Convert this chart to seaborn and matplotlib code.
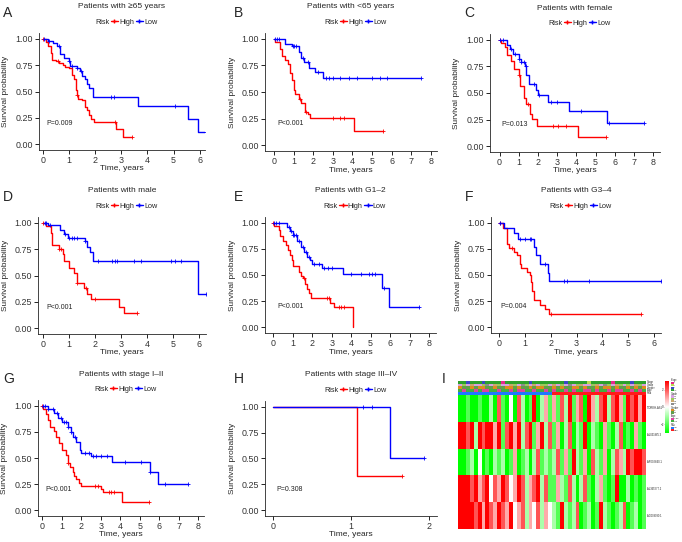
import numpy as np
import pandas as pd
import matplotlib
matplotlib.use('Agg')
import matplotlib.pyplot as plt
import seaborn as sns
from matplotlib.lines import Line2D
from matplotlib.colors import ListedColormap, LinearSegmentedColormap
from matplotlib.patches import Rectangle

sns.set_style('ticks')
plt.rcParams['font.family'] = ['Liberation Sans', 'DejaVu Sans']

# ---------------- data: KM step curves (time of step, survival after step) ----------------
A_high_t = [0, 0.1, 0.2, 0.3, 0.35, 0.5, 0.6, 0.75, 0.85, 1.0, 1.1, 1.2, 1.25, 1.3, 1.35, 1.5, 1.6, 1.7, 1.75, 1.85, 1.95, 2.8, 3.05]
A_high_s = [1.0, 0.97, 0.93, 0.87, 0.80, 0.79, 0.77, 0.75, 0.73, 0.72, 0.66, 0.62, 0.51, 0.47, 0.43, 0.42, 0.35, 0.32, 0.28, 0.24, 0.21, 0.14, 0.07]
A_high_end = 3.4
A_high_cens = [0.0, 0.57, 1.3, 2.75, 3.4]
A_low_t = [0, 0.2, 0.4, 0.55, 0.65, 0.8, 1.0, 1.05, 1.3, 1.4, 1.5, 1.6, 1.7, 1.75, 1.9, 3.65, 5.55, 5.95]
A_low_s = [1.0, 0.98, 0.96, 0.93, 0.86, 0.82, 0.79, 0.74, 0.72, 0.69, 0.65, 0.62, 0.57, 0.53, 0.45, 0.36, 0.24, 0.12]
A_low_end = 6.25
A_low_cens = [0.05, 0.25, 0.6, 1.0, 1.1, 1.3, 1.45, 2.6, 2.7, 5.05, 6.25]

B_high_t = [0, 0.05, 0.3, 0.4, 0.55, 0.7, 0.8, 0.9, 1.0, 1.1, 1.3, 1.4, 1.6, 1.75, 1.85, 4.1]
B_high_s = [1.0, 0.97, 0.90, 0.84, 0.80, 0.76, 0.68, 0.61, 0.52, 0.48, 0.43, 0.40, 0.31, 0.29, 0.26, 0.13]
B_high_end = 5.55
B_high_cens = [1.35, 1.65, 3.0, 3.35, 3.55, 5.55]
B_low_t = [0, 0.55, 0.9, 1.3, 1.4, 1.55, 1.8, 2.1, 2.5]
B_low_s = [1.0, 0.95, 0.93, 0.88, 0.82, 0.78, 0.73, 0.69, 0.63]
B_low_end = 7.5
B_low_cens = [0.05, 0.15, 0.25, 0.95, 1.05, 1.15, 1.5, 1.75, 2.25, 2.65, 2.8, 3.0, 3.35, 3.8, 4.25, 5.0, 5.4, 5.75, 7.5]

C_high_t = [0, 0.05, 0.3, 0.4, 0.6, 0.75, 1.0, 1.05, 1.25, 1.4, 1.6, 1.7, 1.95, 4.1]
C_high_s = [1.0, 0.97, 0.93, 0.86, 0.80, 0.73, 0.67, 0.57, 0.45, 0.40, 0.30, 0.26, 0.19, 0.09]
C_high_end = 5.55
C_high_cens = [0.0, 1.0, 1.5, 2.8, 3.05, 3.45, 5.55]
C_low_t = [0, 0.4, 0.55, 0.7, 1.0, 1.1, 1.3, 1.4, 1.55, 1.9, 2.0, 2.5, 3.6, 5.6]
C_low_s = [1.0, 0.95, 0.91, 0.87, 0.82, 0.79, 0.75, 0.67, 0.58, 0.53, 0.48, 0.42, 0.33, 0.22]
C_low_end = 7.5
C_low_cens = [0.0, 0.2, 0.6, 0.8, 1.0, 1.1, 1.25, 1.35, 1.8, 2.05, 2.65, 3.0, 4.25, 5.7, 7.5]

D_high_t = [0, 0.1, 0.3, 0.35, 0.6, 0.75, 0.8, 1.0, 1.2, 1.3, 1.55, 1.7, 1.85, 2.9, 3.1]
D_high_s = [1.0, 0.97, 0.90, 0.79, 0.75, 0.70, 0.64, 0.57, 0.52, 0.43, 0.38, 0.32, 0.28, 0.20, 0.14]
D_high_end = 3.6
D_high_cens = [0.0, 0.6, 0.7, 1.3, 1.65, 2.0, 3.6]
D_low_t = [0, 0.2, 0.65, 0.8, 0.95, 1.6, 1.7, 1.8, 1.9, 5.95]
D_low_s = [1.0, 0.98, 0.93, 0.89, 0.86, 0.83, 0.77, 0.72, 0.64, 0.32]
D_low_end = 6.25
D_low_cens = [0.05, 0.1, 0.25, 0.85, 1.0, 1.1, 1.2, 1.3, 1.6, 2.1, 2.65, 2.75, 2.85, 3.5, 3.75, 4.9, 5.05, 5.3, 6.25]

E_high_t = [0, 0.05, 0.3, 0.35, 0.5, 0.65, 0.75, 0.85, 0.95, 1.0, 1.3, 1.4, 1.5, 1.65, 1.75, 1.85, 1.95, 2.9, 3.1, 4.1]
E_high_s = [1.0, 0.97, 0.93, 0.87, 0.83, 0.79, 0.74, 0.69, 0.64, 0.59, 0.53, 0.49, 0.47, 0.41, 0.37, 0.33, 0.28, 0.23, 0.19, 0.0]
E_high_end = 4.1
E_high_cens = [0.0, 1.6, 2.75, 2.85, 3.35, 3.5, 3.65]
E_low_t = [0, 0.7, 0.85, 1.0, 1.2, 1.4, 1.6, 1.75, 1.9, 2.0, 2.5, 3.6, 5.6, 5.95]
E_low_s = [1.0, 0.96, 0.92, 0.88, 0.83, 0.77, 0.72, 0.67, 0.64, 0.61, 0.57, 0.51, 0.38, 0.19]
E_low_end = 7.5
E_low_cens = [0.05, 0.15, 0.3, 0.8, 0.9, 1.0, 1.05, 1.15, 1.3, 1.5, 1.7, 1.85, 2.1, 2.35, 2.6, 2.8, 3.0, 4.0, 4.5, 4.9, 5.05, 5.25, 5.7, 7.5]

F_high_t = [0, 0.15, 0.3, 0.4, 0.6, 0.7, 0.8, 0.85, 1.1, 1.2, 1.25, 1.3, 1.35, 1.6, 1.8, 1.95]
F_high_s = [1.0, 0.95, 0.80, 0.76, 0.72, 0.69, 0.61, 0.57, 0.53, 0.50, 0.43, 0.35, 0.26, 0.21, 0.17, 0.13]
F_high_end = 5.5
F_high_cens = [0.05, 0.5, 2.0, 5.5]
F_low_t = [0, 0.2, 0.6, 0.75, 1.35, 1.45, 1.6, 1.9, 1.95]
F_low_s = [1.0, 0.95, 0.90, 0.84, 0.77, 0.69, 0.61, 0.52, 0.44]
F_low_end = 6.25
F_low_cens = [0.05, 0.8, 1.0, 1.2, 1.25, 1.8, 2.5, 2.65, 3.5, 6.25]

G_high_t = [0, 0.05, 0.2, 0.3, 0.4, 0.6, 0.7, 0.85, 1.0, 1.2, 1.3, 1.4, 1.6, 1.65, 1.75, 1.9, 2.0, 3.0, 3.1, 4.1]
G_high_s = [1.0, 0.97, 0.92, 0.86, 0.80, 0.76, 0.70, 0.64, 0.58, 0.53, 0.45, 0.41, 0.37, 0.33, 0.30, 0.26, 0.23, 0.20, 0.17, 0.08]
G_high_end = 5.5
G_high_cens = [0.0, 1.3, 2.7, 2.85, 3.4, 3.55, 3.7, 5.5]
G_low_t = [0, 0.3, 0.6, 0.8, 1.0, 1.3, 1.45, 1.6, 1.75, 1.95, 2.0, 2.5, 3.6, 5.55, 5.95]
G_low_s = [1.0, 0.97, 0.93, 0.88, 0.84, 0.80, 0.75, 0.70, 0.65, 0.58, 0.55, 0.52, 0.46, 0.37, 0.25]
G_low_end = 7.5
G_low_cens = [0.05, 0.15, 0.3, 0.55, 0.75, 0.95, 1.1, 1.2, 1.3, 1.45, 1.7, 2.2, 2.4, 2.6, 2.75, 3.0, 3.3, 4.25, 5.05, 5.55, 6.3, 7.5]

H_high_t = [0, 1.08]
H_high_s = [1.0, 0.333]
H_high_end = 1.65
H_high_cens = [1.65]
H_low_t = [0, 1.5]
H_low_s = [1.0, 0.5]
H_low_end = 1.93
H_low_cens = [1.15, 1.27, 1.93]

letters = ['A', 'B', 'C', 'D', 'E', 'F', 'G', 'H']
titles = ['Patients with \u226565 years', 'Patients with <65 years', 'Patients with female',
          'Patients with male', 'Patients with G1\u20132', 'Patients with G3\u20134',
          'Patients with stage I\u2013II', 'Patients with stage III\u2013IV']
pvals = ['P=0.009', 'P<0.001', 'P=0.013', 'P<0.001', 'P<0.001', 'P=0.004', 'P<0.001', 'P=0.308']
xmax_ticks = [6, 8, 8, 6, 8, 6, 8, 2]
y_ticks = [0.0, 0.25, 0.5, 0.75, 1.0]
y_ticklabels = ['0.00', '0.25', '0.50', '0.75', '1.00']
risk_labels = ['High', 'Low']

# ---------------- heatmap data (panel I) ----------------
gene_names = ['TDRKH-AS1', 'AL031985.3', 'AP002840.1', 'AL365277.2', 'AC009090.1']
expr_row1 = [-3, -3, -2, -3, -3, -2, -3, -3, -1, -3, 2, -2, -3, 0, -3, 2, -1, -3, -2, 3, -3, -1, 1, -2,
             1, -2, 2, -1, 3, -2, 1, 2, -3, 3, 1, -1, 2, 3, -1, 2, 3, 1, -2, 3, 2, 3, 1, 3]
expr_row2 = [3, 3, 2, 3, -1, 3, 2, 3, 3, 1, 3, -2, 2, 3, 1, 3, -1, 2, 3, -2, 1, 3, -1, 2,
             -2, 1, -3, -1, 2, -3, -1, -2, 3, -3, -1, -2, -3, 1, -2, -3, -1, 2, -3, -2, -3, 1, -2, -3]
expr_row3 = [-3, -3, -2, -1, -3, 0, -3, -2, -3, -1, -2, -1, -3, -2, 1, -3, -2, -1, -3, -1, 2, -2, -1, -2,
             -1, 2, -2, 1, -2, 3, -1, -2, 1, -3, 2, -1, -2, 1, -3, -1, 2, 1, -1, 3, 2, 3, 3, 2]
expr_row4 = [3, 3, 3, 2, 3, 1, 2, 3, 0, 2, 1, 3, 2, 0, 1, 3, 2, -1, 1, 2, 3, -1, 2, -2,
             -2, 1, -1, -2, 2, -1, -3, -1, 2, -2, -3, -1, 1, -2, -3, -2, 3, -3, -3, -1, -3, -2, -3, -2]
expr_row5 = [3, 3, 3, 3, 2, 3, 1, 3, 2, 1, 3, 2, 1, 3, 0, 1, 2, -1, 1, 0, 2, -1, 1, 0,
             -1, -2, 3, -1, -2, -1, 2, -3, -2, -1, -3, -2, 3, -1, -2, -3, -2, -1, 2, -3, -2, -1, -3, -2]
annot_names = ['Stage', 'Grade', 'Gender', 'Age', 'Risk']
stage = [3, 3, 2, 3, 3, 3, 2, 3, 3, 3, 3, 0, 3, 3, 3, 3, 3, 3, 2, 3, 3, 3, 3, 3,
         3, 3, 3, 2, 3, 3, 3, 3, 3, 1, 3, 3, 3, 3, 3, 0, 3, 3, 3, 3, 2, 3, 3, 3]
grade = [0, 1, 0, 2, 0, 0, 1, 3, 0, 2, 1, 0, 0, 2, 1, 0, 3, 1, 0, 2, 0, 1, 1, 0,
         2, 0, 1, 0, 3, 0, 1, 2, 0, 0, 1, 2, 0, 3, 1, 0, 2, 1, 0, 1, 0, 2, 1, 0]
gender = [0, 1, 1, 0, 1, 0, 0, 1, 1, 0, 1, 1, 0, 0, 1, 0, 1, 1, 0, 1, 0, 0, 1, 1,
          0, 1, 0, 1, 1, 0, 0, 1, 0, 1, 1, 0, 1, 0, 0, 1, 0, 1, 1, 0, 1, 0, 1, 0]
age = [1, 0, 1, 1, 0, 1, 0, 0, 1, 1, 0, 1, 1, 0, 1, 0, 0, 1, 1, 0, 1, 1, 0, 1,
       0, 1, 1, 0, 1, 0, 1, 1, 0, 0, 1, 0, 1, 1, 0, 1, 0, 0, 1, 1, 0, 1, 0, 1]
risk = [0] * 24 + [1] * 24
colorbar_ticks = [-2, 0, 2]

# ---------------- layout helpers ----------------
W, H = 682, 542
fig = plt.figure(figsize=(W / 100, H / 100), dpi=100)


def rect(l, t, r, b):
    return [l / W, 1 - b / H, (r - l) / W, (b - t) / H]


boxes = [(39, 33, 205, 150), (265, 33, 437, 151), (490, 34, 660, 152),
         (38, 217, 206, 334), (265, 217, 436, 333), (491, 217, 661, 333),
         (38, 400, 204, 516), (265, 401, 437, 516)]
xlims = [(-0.15, 6.2), (-0.45, 8.3), (-0.5, 8.35), (-0.2, 6.25), (-0.43, 8.36),
         (-0.3, 6.26), (-0.22, 8.3), (-0.1, 2.1)]
letter_pos = [(3, 6), (234, 6), (464, 6), (3, 190), (234, 190), (465, 190), (3, 372), (234, 372)]
p_x = [0.15, 0.2, 0.1, 0.13, 0.2, 0.08, 0.17, 0.04]

curves = {
    'A': (A_high_t, A_high_s, A_high_end, A_high_cens, A_low_t, A_low_s, A_low_end, A_low_cens),
    'B': (B_high_t, B_high_s, B_high_end, B_high_cens, B_low_t, B_low_s, B_low_end, B_low_cens),
    'C': (C_high_t, C_high_s, C_high_end, C_high_cens, C_low_t, C_low_s, C_low_end, C_low_cens),
    'D': (D_high_t, D_high_s, D_high_end, D_high_cens, D_low_t, D_low_s, D_low_end, D_low_cens),
    'E': (E_high_t, E_high_s, E_high_end, E_high_cens, E_low_t, E_low_s, E_low_end, E_low_cens),
    'F': (F_high_t, F_high_s, F_high_end, F_high_cens, F_low_t, F_low_s, F_low_end, F_low_cens),
    'G': (G_high_t, G_high_s, G_high_end, G_high_cens, G_low_t, G_low_s, G_low_end, G_low_cens),
    'H': (H_high_t, H_high_s, H_high_end, H_high_cens, H_low_t, H_low_s, H_low_end, H_low_cens),
}

RED, BLUE = '#FF0000', '#0000FF'


def surv_at(t, times, survs):
    idx = np.searchsorted(times, t, side='right') - 1
    return survs[max(idx, 0)]


def draw_curve(ax, t, s, end, cens, color):
    df = pd.DataFrame({'time': list(t) + [end], 'surv': list(s) + [s[-1]]})
    sns.lineplot(data=df, x='time', y='surv', drawstyle='steps-post', color=color,
                 lw=1.0, ax=ax, estimator=None, sort=False)
    cdf = pd.DataFrame({'time': cens, 'surv': [surv_at(c, t, s) for c in cens]})
    sns.scatterplot(data=cdf, x='time', y='surv', marker='+', s=8, color=color,
                    linewidth=0.6, ax=ax, zorder=3)


for i, L in enumerate(letters):
    l, t, r, b = boxes[i]
    ax = fig.add_axes(rect(l, t, r, b))
    ht, hs, he, hc, lt, ls, le, lc = curves[L]
    draw_curve(ax, ht, hs, he, hc, RED)
    draw_curve(ax, lt, ls, le, lc, BLUE)
    ax.set_xlim(*xlims[i])
    ax.set_ylim(-0.055, 1.055)
    ax.set_xticks(list(range(0, xmax_ticks[i] + 1)))
    ax.set_yticks(y_ticks)
    ax.set_yticklabels(y_ticklabels)
    ax.tick_params(labelsize=6.4, length=3, width=0.6, pad=1.5, colors='black', labelcolor='#333333')
    for sp in ['left', 'bottom']:
        ax.spines[sp].set_linewidth(0.6)
    sns.despine(ax=ax)
    ax.set_xlabel('Time, years', fontsize=6)
    ax.set_ylabel('Survival probability', fontsize=6)
    wpx, hpx = r - l, b - t
    ax.xaxis.set_label_coords(0.5, -15.5 / hpx)
    ax.yaxis.set_label_coords(-29.5 / wpx, 0.5)
    ax.text(p_x[i], 0.2, pvals[i], fontsize=5, ha='left', va='center', color='#222222')
    # title and legend
    ax.text(0.5, 1 + 26 / hpx, titles[i], transform=ax.transAxes, ha='center', va='center', fontsize=6)
    handles = [Line2D([], [], alpha=0),
               Line2D([0], [0], color=RED, lw=1, marker='+', markersize=3),
               Line2D([0], [0], color=BLUE, lw=1, marker='+', markersize=3)]
    ax.legend(handles, ['Risk'] + risk_labels, ncol=3, loc='center', frameon=False,
              bbox_to_anchor=(0.5, 1 + 11 / hpx), fontsize=5.2, handlelength=1.0,
              handletextpad=0.15, columnspacing=0.25, borderpad=0, borderaxespad=0)
    fig.text(letter_pos[i][0] / W, 1 - letter_pos[i][1] / H, L, fontsize=10, ha='left', va='top')

# ---------------- panel I: heatmap ----------------
fig.text(442 / W, 1 - 372 / H, 'I', fontsize=10, ha='left', va='top')

expr = np.array([expr_row1, expr_row2, expr_row3, expr_row4, expr_row5])
gcmap = LinearSegmentedColormap.from_list('gwr', ['#00FF00', '#FFFFFF', '#FF0000'])
axh = fig.add_axes(rect(458, 395, 646, 529))
cax = fig.add_axes(rect(665, 381, 669, 433))
sns.heatmap(expr, cmap=gcmap, vmin=-3, vmax=3, ax=axh, cbar_ax=cax,
            xticklabels=False, yticklabels=False)
cax.yaxis.set_ticks_position('left')
cax.set_yticks(colorbar_ticks)
cax.tick_params(labelsize=2.2, length=0.6, width=0.3, pad=0.3)
for k, g in enumerate(gene_names):
    axh.text(48.3, k + 0.5, g, fontsize=1.9, ha='left', va='center')

stage_cols = ['#E7298A', '#B8D94E', '#3A48C4', '#2CA02C']
grade_cols = ['#D7A0E0', '#9CCB5A', '#C9A86B', '#8C8C8C']
gender_cols = ['#E08A1E', '#5F9E4A']
age_cols = ['#E040A0', '#40B040']
risk_cols = ['#1E78FF', '#FF1A1A']
annot_cmap = ListedColormap(stage_cols + grade_cols + gender_cols + age_cols + risk_cols)
annot = np.array([stage,
                  [g + 4 for g in grade],
                  [g + 8 for g in gender],
                  [a + 10 for a in age],
                  [rk + 12 for rk in risk]])
axa = fig.add_axes(rect(458, 381, 646, 394.5))
sns.heatmap(annot, cmap=annot_cmap, vmin=-0.5, vmax=13.5, ax=axa, cbar=False,
            xticklabels=False, yticklabels=False)
for k, nm in enumerate(annot_names):
    axa.text(48.3, k + 0.5, nm, fontsize=1.9, ha='left', va='center')

# annotation legends
axl = fig.add_axes(rect(671, 379, 682, 456))
axl.set_xlim(0, 11)
axl.set_ylim(77, 0)
axl.axis('off')
groups = [('Stage', stage_cols, ['I', 'II', 'III', 'IV']),
          ('Grade', grade_cols, ['G1', 'G2', 'G3', 'G4']),
          ('Gender', gender_cols, ['F', 'M']),
          ('Age', age_cols, ['<=65', '>65']),
          ('Risk', risk_cols, ['low', 'high'])]
y = 1.5
for name, cols, labs in groups:
    axl.text(0, y, name, fontsize=1.8, va='center')
    y += 2.4
    for c, lab in zip(cols, labs):
        axl.add_patch(Rectangle((0, y - 1.1), 2.6, 2.2, color=c, lw=0))
        axl.text(3.2, y, lab, fontsize=1.7, va='center')
        y += 2.4
    y += 1.6

fig.savefig('out.png', dpi=100)
